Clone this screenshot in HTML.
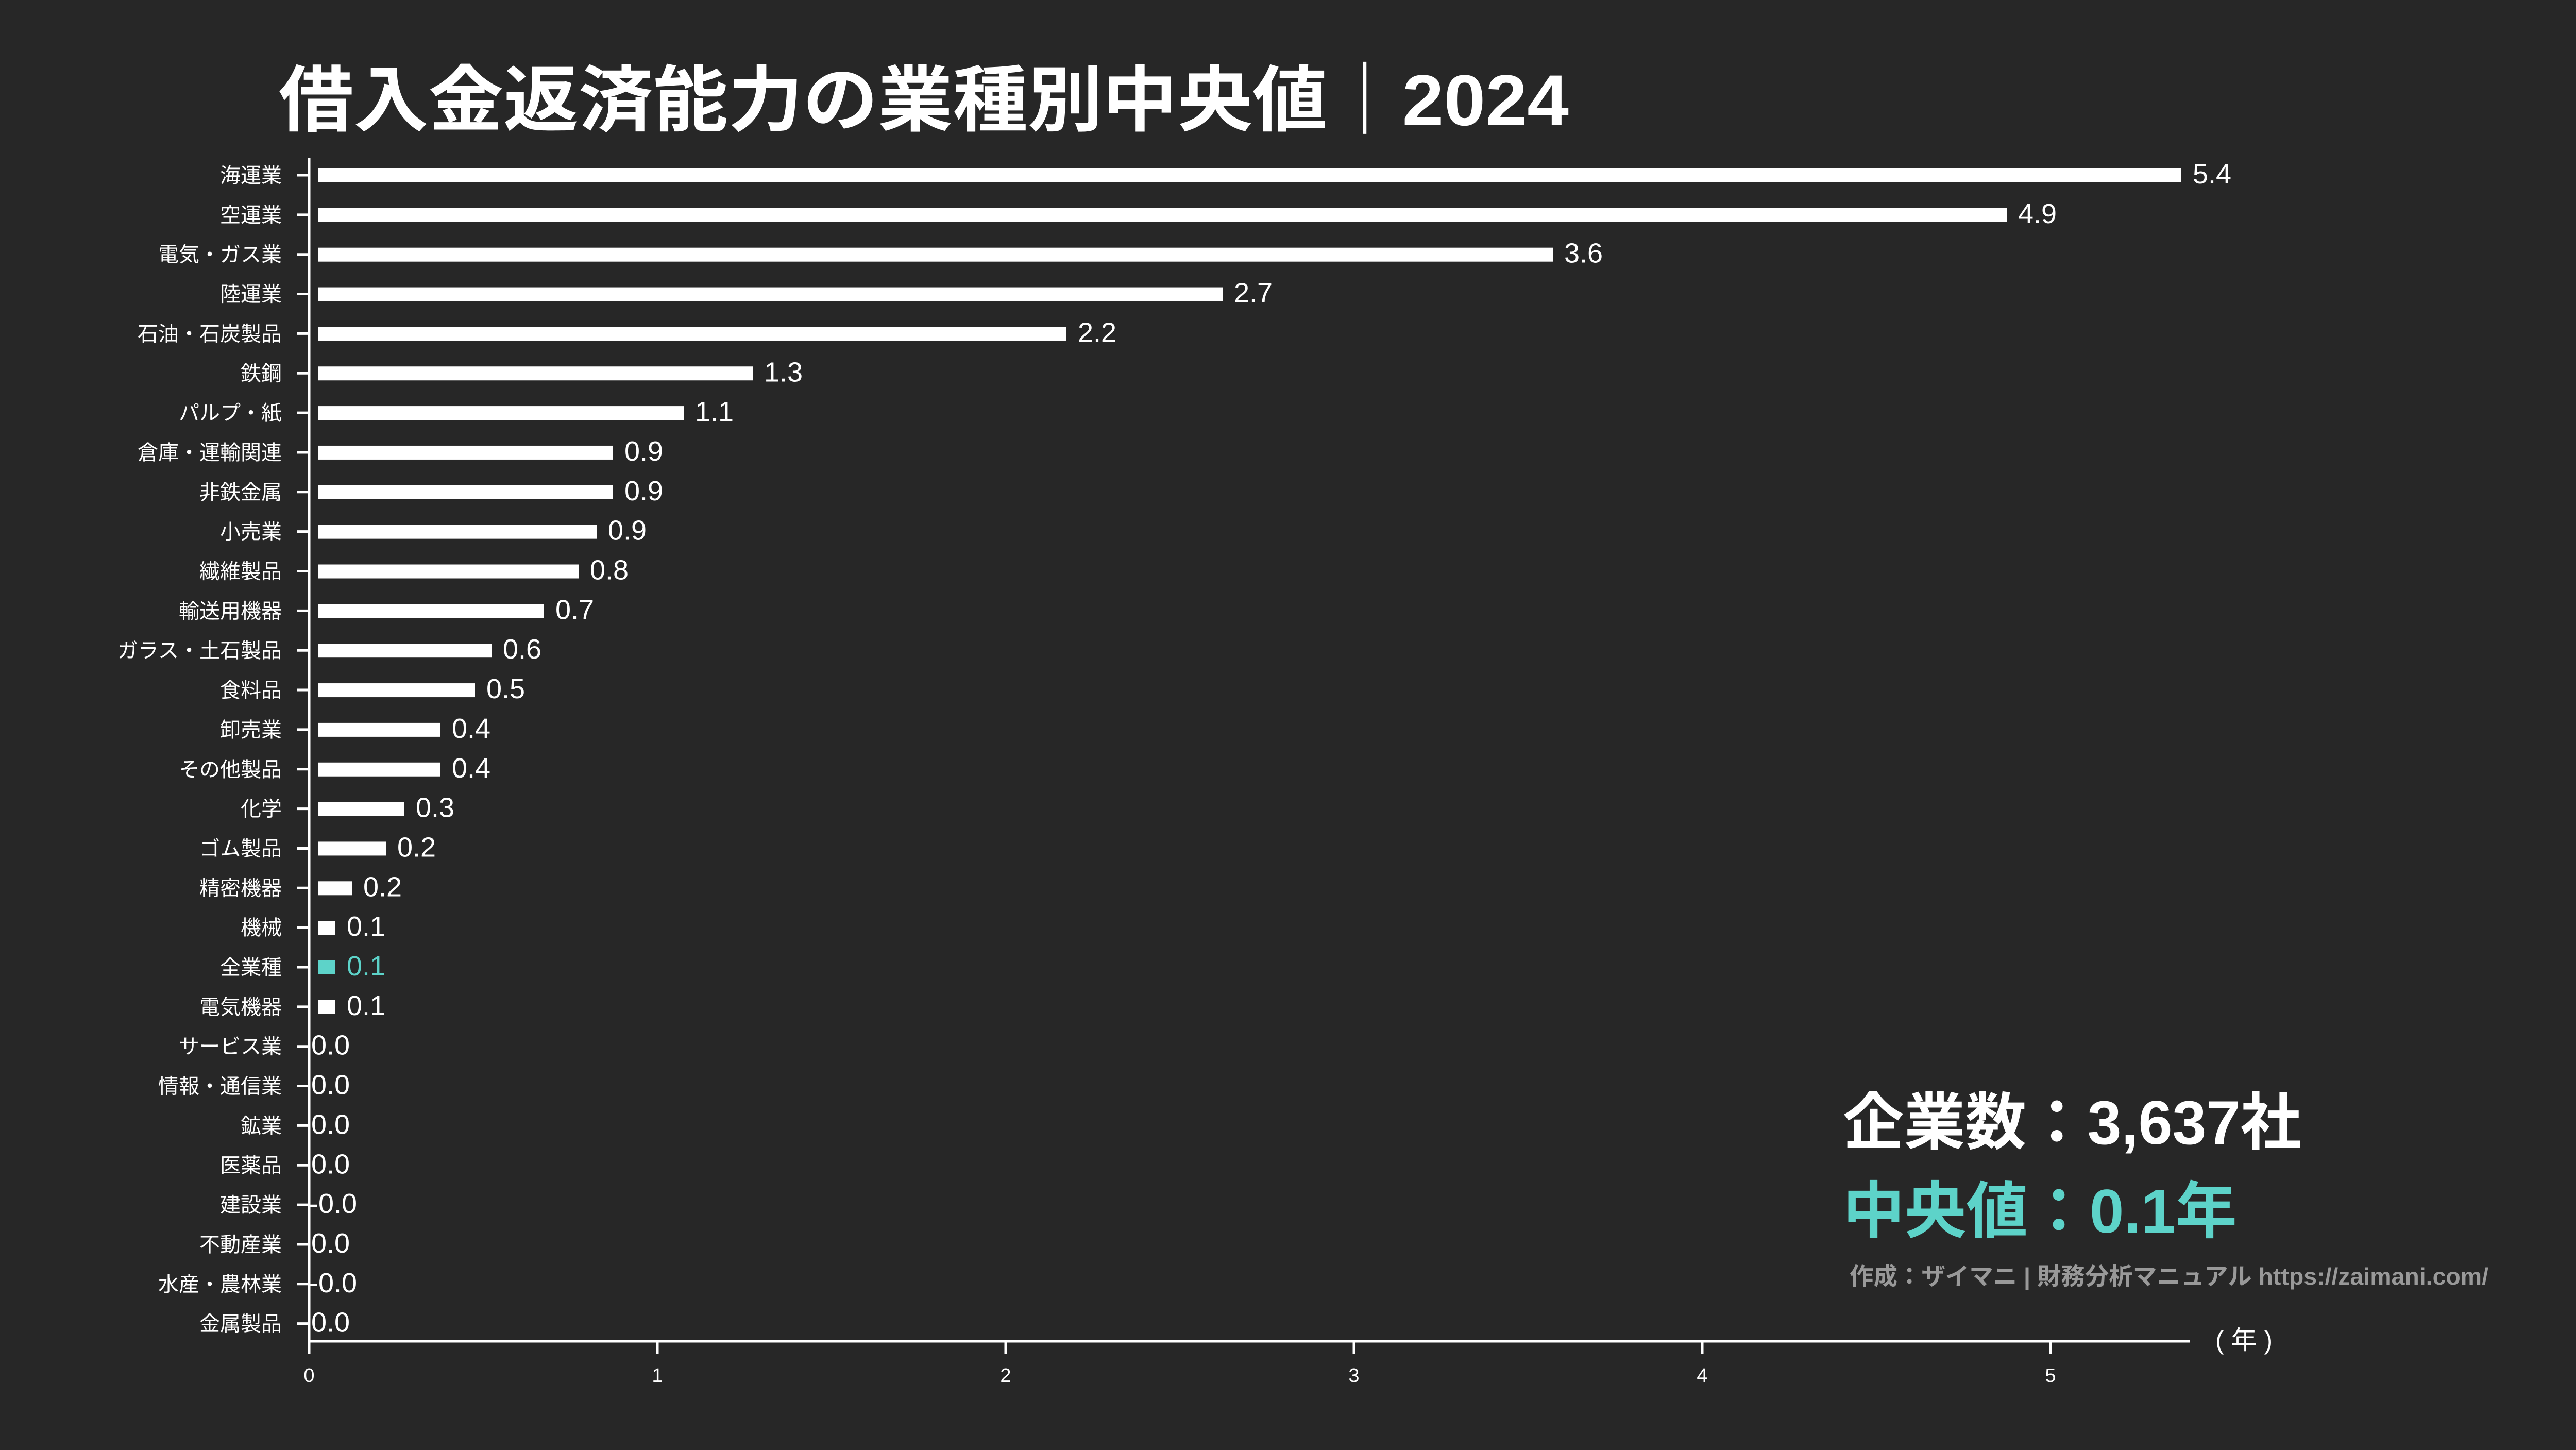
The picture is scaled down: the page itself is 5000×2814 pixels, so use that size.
<!DOCTYPE html>
<html><head><meta charset="utf-8"><style>
html,body{margin:0;padding:0;background:#272727;}
svg{display:block;}
text{font-family:"Liberation Sans","Noto Sans CJK JP",sans-serif;}
</style></head><body>
<svg width="5000" height="2814" viewBox="0 0 5000 2814" xmlns="http://www.w3.org/2000/svg">
<rect width="5000" height="2814" fill="#272727"/>
<text x="541" y="243" font-size="140" font-weight="bold" fill="#fff" textLength="2504" lengthAdjust="spacingAndGlyphs">借入金返済能力の業種別中央値｜2024</text>
<g stroke="#fff" stroke-width="5">
<line x1="600" y1="306" x2="600" y2="2627"/>
<line x1="598" y1="2603" x2="4251" y2="2603"/>
<line x1="1276" y1="2603" x2="1276" y2="2627"/>
<line x1="1952" y1="2603" x2="1952" y2="2627"/>
<line x1="2628" y1="2603" x2="2628" y2="2627"/>
<line x1="3304" y1="2603" x2="3304" y2="2627"/>
<line x1="3980" y1="2603" x2="3980" y2="2627"/>
</g>
<g font-size="38" fill="#fff" text-anchor="middle">
<text x="600" y="2682">0</text><text x="1276" y="2682">1</text><text x="1952" y="2682">2</text><text x="2628" y="2682">3</text><text x="3304" y="2682">4</text><text x="3980" y="2682">5</text>
</g>
<text x="4300" y="2618" font-size="50" fill="#fff">(  年  )</text>
<g id="rows" font-size="40" fill="#fff"></g>
<text x="3577" y="2220" font-size="120" font-weight="bold" fill="#fff" textLength="890" lengthAdjust="spacingAndGlyphs">企業数：3,637社</text>
<text x="3577" y="2392" font-size="120" font-weight="bold" fill="#5dd3c9" textLength="765" lengthAdjust="spacingAndGlyphs">中央値：0.1年</text>
<text x="3590" y="2493" font-size="46" font-weight="bold" fill="#999" textLength="1240" lengthAdjust="spacingAndGlyphs">作成：ザイマニ | 財務分析マニュアル https://zaimani.com/</text>
</svg>
<script>
var d=[["海運業",4234,"5.4"],["空運業",3895,"4.9"],["電気・ガス業",3014,"3.6"],["陸運業",2373,"2.7"],["石油・石炭製品",2070,"2.2"],["鉄鋼",1461,"1.3"],["パルプ・紙",1327,"1.1"],["倉庫・運輸関連",1190,"0.9"],["非鉄金属",1190,"0.9"],["小売業",1158,"0.9"],["繊維製品",1123,"0.8"],["輸送用機器",1056,"0.7"],["ガラス・土石製品",954,"0.6"],["食料品",922,"0.5"],["卸売業",855,"0.4"],["その他製品",855,"0.4"],["化学",785,"0.3"],["ゴム製品",749,"0.2"],["精密機器",683,"0.2"],["機械",651,"0.1"],["全業種",651,"0.1",1],["電気機器",651,"0.1"],["サービス業",0,"0.0"],["情報・通信業",0,"0.0"],["鉱業",0,"0.0"],["医薬品",0,"0.0"],["建設業",0,"-0.0"],["不動産業",0,"0.0"],["水産・農林業",0,"-0.0"],["金属製品",0,"0.0"]];
var g=document.getElementById('rows'),h="";
d.forEach(function(r,i){var y=340+i*76.85;var c=r[3]?"#5dd3c9":"#fff";
h+='<text x="547" y="'+(y+14)+'" text-anchor="end" font-size="40" fill="#fff">'+r[0]+'</text>';
h+='<line x1="577" y1="'+y+'" x2="600" y2="'+y+'" stroke="#fff" stroke-width="5"/>';
var lx;
if(r[1]>0){h+='<rect x="618" y="'+(y-13)+'" width="'+(r[1]-618)+'" height="27" fill="'+c+'"/>';lx=r[1]+22;}else{lx=r[2][0]=="-"?600:604;}
h+='<text x="'+lx+'" y="'+(y+16)+'" font-size="54" fill="'+c+'">'+r[2]+'</text>';});
g.innerHTML=h;
</script>
</body></html>
